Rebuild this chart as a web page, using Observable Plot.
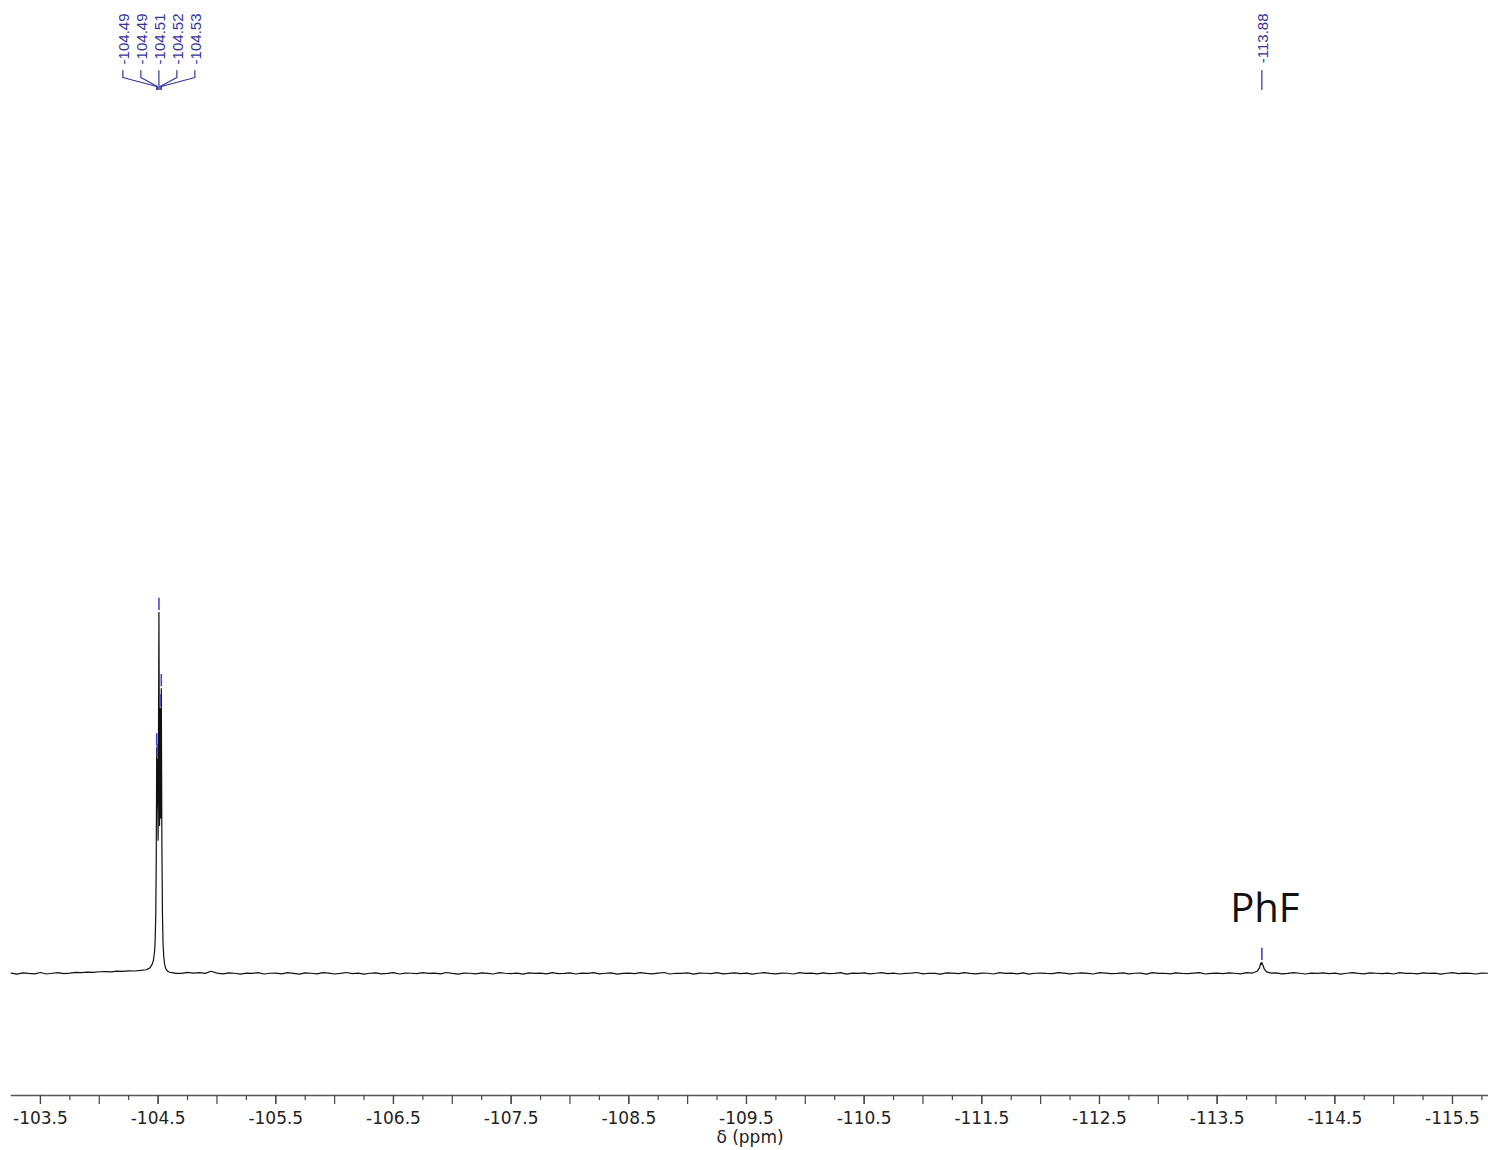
<!DOCTYPE html>
<html>
<head>
<meta charset="utf-8">
<script src="https://cdn.jsdelivr.net/npm/d3@7"></script>
<script src="https://cdn.jsdelivr.net/npm/@observablehq/plot@0.6"></script>
<style>
  html, body { margin: 0; padding: 0; background: #fff; }
  #chart svg { display: block; }
</style>
</head>
<body>
<div id="chart"></div>
<script>
// 19F NMR spectrum (δ in ppm, intensity in arbitrary units, baseline = 0)

// Baseline trace: one reading every 0.05 ppm starting at -103.25 ppm
const baseStart = -103.25;
const baseStep = 0.05;
const baselineInt = [
  0.1, -0.2, 0.15, 0.0, -0.1, 0.25, -0.15, 0.05, 0.2, -0.05, 0.1, 0.3,
  0.2, 0.35, 0.3, 0.45, 0.5, 0.4, 0.6, 0.55, 0.7, 0.65, 0.8, 0.9,
  0.0, 0.0, 0.0, 0.0, 0.0, 0.0, 0.3, 0.1, 0.2, 0.0, 0.6, 0.1,
  -0.1, 0.15, 0.05, -0.2, 0.1, 0.0, 0.2, -0.15, 0.05, 0.1, -0.1, 0.2,
  0.0, -0.2, 0.15, 0.05, -0.1, 0.2, 0.1, -0.15, 0.0, 0.25, -0.05, 0.1,
  -0.2, 0.05, 0.15, -0.1, 0.0, 0.2, -0.15, 0.1, 0.05, -0.05, 0.2, 0.0,
  0.1, -0.1, 0.25, 0.0, -0.2, 0.1, 0.05, -0.1, 0.15, 0.0, -0.15, 0.2,
  0.05, -0.05, 0.1, -0.2, 0.15, 0.0, 0.1, -0.1, 0.2, -0.05, 0.0, 0.15,
  -0.15, 0.1, 0.0, 0.2, -0.1, 0.05, 0.15, -0.2, 0.0, 0.1, -0.05, 0.2,
  0.0, -0.1, 0.1, 0.25, -0.15, 0.05, 0.0, 0.15, -0.2, 0.1, 0.05, -0.05,
  0.2, -0.1, 0.0, 0.15, -0.05, 0.1, -0.2, 0.05, 0.2, 0.0, -0.1, 0.1,
  0.05, -0.15, 0.2, 0.0, 0.1, -0.1, 0.15, -0.05, 0.0, 0.2, -0.2, 0.1,
  0.0, 0.15, -0.1, 0.05, 0.2, -0.05, 0.1, -0.15, 0.0, 0.1, 0.25, -0.1,
  0.05, 0.0, -0.2, 0.15, 0.1, -0.05, 0.2, 0.0, -0.1, 0.1, 0.05, -0.15,
  0.2, 0.0, 0.1, -0.1, 0.15, -0.2, 0.05, 0.1, 0.0, -0.05, 0.2, 0.1,
  -0.1, 0.05, 0.15, 0.0, -0.15, 0.2, 0.1, -0.05, 0.0, 0.15, -0.1, 0.05,
  0.1, -0.2, 0.2, 0.0, 0.05, -0.1, 0.15, 0.0, -0.05, 0.1, 0.2, -0.15,
  0.0, 0.1, -0.05, 0.15, 0.05, -0.1, 0.2, 0.0, 0.1, -0.2, 0.05, 0.15,
  -0.1, 0.0, 0.2, 0.05, -0.15, 0.1, 0.0, 0.15, -0.05, 0.1, -0.2, 0.05,
  0.2, 0.0, -0.1, 0.15, 0.05, -0.05, 0.1, -0.15, 0.2, 0.0, 0.05, -0.1,
  0.15, 0.0, 0.1, -0.2, 0.05, 0.2, -0.05, 0.1, 0.0, -0.15, 0.1, 0.05
];

// Main multiplet around -104.5 ppm
const mainPpm = [-104.40, -104.43, -104.45, -104.46, -104.47, -104.475, -104.48, -104.484,
  -104.488, -104.4905, -104.493, -104.500, -104.507, -104.512, -104.517, -104.522,
  -104.527, -104.532, -104.537, -104.542, -104.548, -104.555, -104.565, -104.58, -104.60, -104.62];
const mainInt = [1.0, 1.5, 2.5, 3.5, 6, 9, 16, 30,
  61, 45, 58, 36, 97.6, 40, 71.6, 42,
  77, 35, 16, 8, 4.5, 2.5, 1.3, 0.6, 0.3, 0.2];

// Fluorobenzene signal
const phfPpm = [-113.80, -113.84, -113.86, -113.87, -113.875, -113.88, -113.885, -113.89, -113.90, -113.92, -113.96];
const phfInt = [0.1, 0.6, 1.5, 2.8, 2.4, 3.0, 2.5, 2.2, 1.2, 0.4, 0.1];

// Peak picking
const pickPpm = [-104.488, -104.493, -104.507, -104.517, -104.527, -113.88];
const pickLabels = ["-104.49", "-104.49", "-104.51", "-104.52", "-104.53", "-113.88"];
const pickGroup = ["m1", "m1", "m1", "m1", "m1", "s1"];

// Annotation
const soluteName = "PhF";
const soluteShift = -113.88;

// Axis ticks
const axisLabels = [-103.5, -104.5, -105.5, -106.5, -107.5, -108.5, -109.5, -110.5, -111.5, -112.5, -113.5, -114.5, -115.5];
const halfTicks = [-103.5, -104, -104.5, -105, -105.5, -106, -106.5, -107, -107.5, -108, -108.5, -109, -109.5,
  -110, -110.5, -111, -111.5, -112, -112.5, -113, -113.5, -114, -114.5, -115, -115.5];
const quarterTicks = [-103.75, -104.25, -104.75, -105.25, -105.75, -106.25, -106.75, -107.25, -107.75, -108.25,
  -108.75, -109.25, -109.75, -110.25, -110.75, -111.25, -111.75, -112.25, -112.75, -113.25, -113.75,
  -114.25, -114.75, -115.25, -115.75];

// ---- layout ----
const W = 1488, H = 1150;
const mL = 11, mR = 0, mT = 10, mB = 55;
const xDomain = [-103.254, -115.806];
const yDomain = [-33, 260.3];
const labelBlue = "#34349c";
const markBlue = "#4646cc";

// ---- assemble the trace ----
const inPeakWindow = p => (p <= -104.38 && p >= -104.63) || (p <= -113.77 && p >= -113.99);
const baseline = baselineInt.map((v, i) => ({ppm: +(baseStart - i * baseStep).toFixed(3), int: v}));
const spectrum = [
  ...baseline.filter(d => !inPeakWindow(d.ppm)),
  ...mainPpm.map((p, i) => ({ppm: p, int: mainInt[i]})),
  ...phfPpm.map((p, i) => ({ppm: p, int: phfInt[i]}))
].sort((a, b) => b.ppm - a.ppm);

const heightAt = p => spectrum.reduce((best, d) => Math.abs(d.ppm - p) < Math.abs(best.ppm - p) ? d : best).int;

// label positions: labels of one multiplet are fanned out around the group centre
const pxPerPpm = (W - mL - mR) / Math.abs(xDomain[1] - xDomain[0]);
const labelSpacing = 18 / pxPerPpm;
const groups = d3.group(pickPpm.map((p, i) => ({ppm: p, label: pickLabels[i], group: pickGroup[i], id: i})), d => d.group);
const picks = [];
for (const [, members] of groups) {
  const centre = d3.mean(members, d => d.ppm);
  const n = members.length;
  members.forEach((d, k) => {
    picks.push({...d, h: heightAt(d.ppm), labelX: n === 1 ? d.ppm : centre + ((n - 1) / 2 - k) * labelSpacing});
  });
}

// connector leaders from the label row down to the peak positions
const yScale = Plot.scale({y: {domain: yDomain, range: [H - mB, mT]}});
const leaders = picks.flatMap(d => [
  {id: d.id, x: d.labelX, y: yScale.invert(70)},
  {id: d.id, x: d.labelX, y: yScale.invert(77)},
  {id: d.id, x: d.ppm, y: yScale.invert(86)},
  {id: d.id, x: d.ppm, y: yScale.invert(89)}
]);

const soluteHeight = heightAt(soluteShift);

const chart = Plot.plot({
  width: W,
  height: H,
  marginLeft: mL,
  marginRight: mR,
  marginTop: mT,
  marginBottom: mB,
  style: {background: "#fff", overflow: "visible"},
  x: {domain: xDomain, axis: null},
  y: {domain: yDomain, axis: null},
  marks: [
    // axis line
    Plot.frame({anchor: "bottom", stroke: "#555", strokeWidth: 1.6}),
    Plot.axisX(quarterTicks, {tickSize: 5, fill: "none", stroke: "#444", strokeWidth: 1.2, label: null}),
    Plot.axisX(halfTicks, {tickSize: 9, fill: "none", stroke: "#444", strokeWidth: 1.2, label: null}),
    Plot.axisX(axisLabels, {
      tickSize: 9, tickPadding: 7, stroke: "#444", strokeWidth: 1.2,
      tickFormat: d => d.toFixed(1),
      fontSize: 17, fontFamily: "DejaVu Sans", fill: "#222",
      label: "δ (ppm)", labelAnchor: "center", labelArrow: "none", labelOffset: 47
    }),
    // spectrum trace
    Plot.line(spectrum, {x: "ppm", y: "int", stroke: "#111", strokeWidth: 1.2}),
    // peak-pick markers
    Plot.ruleX(picks, {x: "ppm", y1: d => d.h + 0.5, y2: d => d.h + 3.8, stroke: markBlue, strokeWidth: 1.6}),
    // leaders and shift labels
    Plot.line(leaders, {x: "x", y: "y", z: "id", stroke: labelBlue, strokeWidth: 1.2}),
    Plot.text(picks, {
      x: "labelX", text: "label", frameAnchor: "top", rotate: -90, textAnchor: "end", dy: 3, dx: -5,
      fill: labelBlue, fontSize: 15, fontFamily: "Liberation Sans"
    }),
    // compound annotation
    Plot.text([soluteShift], {
      x: d => d, y: () => soluteHeight, text: () => soluteName,
      lineAnchor: "bottom", dy: -40, dx: 3,
      fontSize: 40, fontFamily: "Open Sans", fill: "#111"
    })
  ]
});

document.getElementById("chart").appendChild(chart);
</script>
</body>
</html>
